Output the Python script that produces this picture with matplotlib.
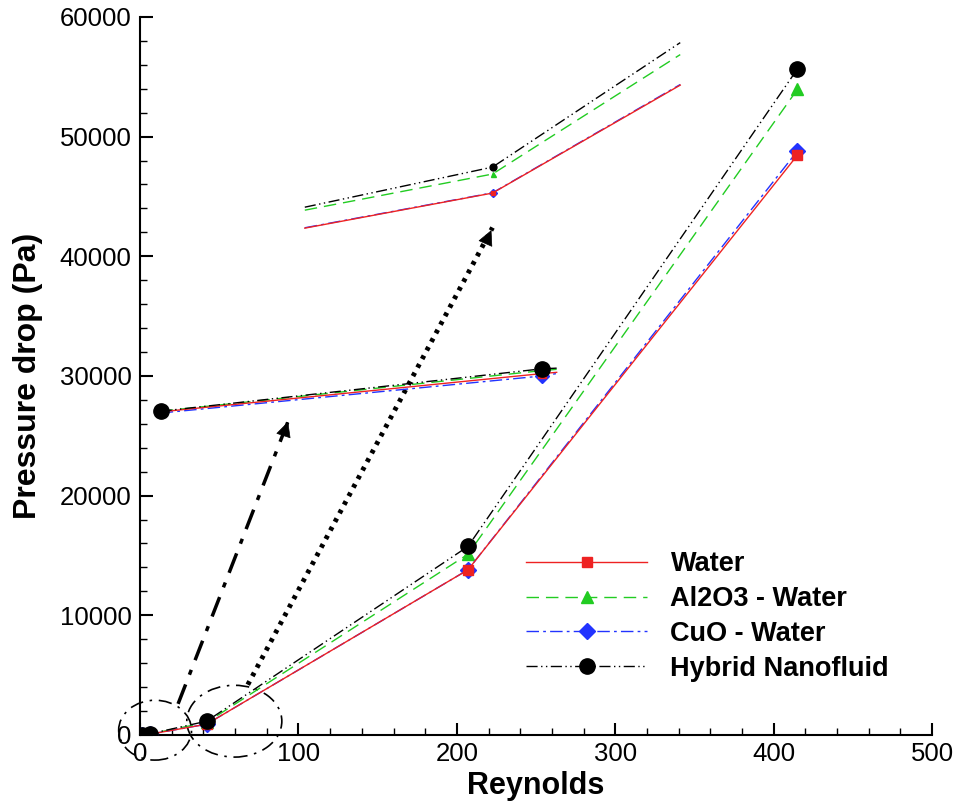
import matplotlib
matplotlib.use("Agg")
import matplotlib.pyplot as plt
from matplotlib.patches import Ellipse

plt.rcParams['font.family'] = ['Liberation Sans', 'DejaVu Sans']

# ---- main data ----
reynolds = [1.5, 6, 42, 207, 415]
water = [20, 60, 900, 13800, 48450]
al2o3 = [25, 80, 1050, 15100, 53950]
cuo = [20, 60, 900, 13800, 48800]
hybrid = [30, 90, 1150, 15750, 55650]

# ---- zoom view 1 (near origin) ----
z1_re = [13, 254, 263]
z1_water = [27000, 30200, 30300]
z1_al2o3 = [27050, 30450, 30550]
z1_cuo = [26900, 30000, 30200]
z1_hybrid = [27050, 30600, 30650]

# ---- zoom view 2 (second region) ----
z2_re = [104, 222.5, 341]
z2_water = [42350, 45280, 54300]
z2_al2o3 = [43850, 46870, 56850]
z2_cuo = [42380, 45300, 54350]
z2_hybrid = [44100, 47450, 57850]

# ---- annotation geometry ----
arrow1 = [(24, 2600), (94, 26400)]
arrow2 = [(68, 4200), (222.5, 42400)]
ellipse1 = dict(center=(9.5, 400), w=46, h=5000)
ellipse2 = dict(center=(59.5, 1150), w=60, h=6000)

fig = plt.figure(figsize=(9.56, 8.05), dpi=100)
ax = fig.add_axes([0.1465, 0.087, 0.8285, 0.892])

styles = {
    'Water': dict(color='#ee2222', ls='-', marker='s', ms=7),
    'Al2O3 - Water': dict(color='#22cc22', ls=(0, (9, 5)), marker='^', ms=8),
    'CuO - Water': dict(color='#2233ff', ls=(0, (9, 3, 2, 3)), marker='D', ms=8),
    'Hybrid Nanofluid': dict(color='black', ls=(0, (8, 2.5, 1, 2.5, 1, 2.5)), marker='o', ms=11),
}
main = {'Water': water, 'Al2O3 - Water': al2o3, 'CuO - Water': cuo, 'Hybrid Nanofluid': hybrid}
z1 = {'Water': z1_water, 'Al2O3 - Water': z1_al2o3, 'CuO - Water': z1_cuo, 'Hybrid Nanofluid': z1_hybrid}
z2 = {'Water': z2_water, 'Al2O3 - Water': z2_al2o3, 'CuO - Water': z2_cuo, 'Hybrid Nanofluid': z2_hybrid}

order = ['Al2O3 - Water', 'CuO - Water', 'Water', 'Hybrid Nanofluid']
handles = {}
for name in order:
    s = styles[name]
    h, = ax.plot(reynolds, main[name], color=s['color'], ls=s['ls'], lw=1.0,
                 marker=s['marker'], ms=s['ms'], label=name, zorder=3)
    handles[name] = h
    ax.plot(z1_re, z1[name], color=s['color'], ls=s['ls'], lw=1.0,
            marker=s['marker'], ms=s['ms'] * (0.85 if name != 'Hybrid Nanofluid' else 1.0),
            markevery=[0, 1] if name == 'Hybrid Nanofluid' else [1], zorder=3)
    ax.plot(z2_re, z2[name], color=s['color'], ls=s['ls'], lw=1.0,
            marker=s['marker'], ms=s['ms'] * 0.45, markevery=[1], zorder=3)

# arrows
ax.plot([arrow1[0][0], arrow1[1][0]], [arrow1[0][1], arrow1[1][1]], color='black',
        lw=2.5, ls=(0, (6, 3, 1.5, 3)), zorder=2)
ax.annotate('', xy=arrow1[1], xytext=(arrow1[1][0] - 3, arrow1[1][1] - 1200),
            arrowprops=dict(arrowstyle='-|>', color='black', lw=0.5, mutation_scale=25))
ax.plot([arrow2[0][0], arrow2[1][0]], [arrow2[0][1], arrow2[1][1]], color='black',
        lw=3.5, ls=(0, (0.8, 1.2)), zorder=2)
ax.annotate('', xy=arrow2[1], xytext=(arrow2[1][0] - 4, arrow2[1][1] - 1200),
            arrowprops=dict(arrowstyle='-|>', color='black', lw=0.5, mutation_scale=25))

for e in (ellipse1, ellipse2):
    ax.add_patch(Ellipse(e['center'], e['w'], e['h'], fill=False, ec='black', lw=1.2,
                         ls=(0, (8, 4, 1.5, 4)), clip_on=False, zorder=2))

ax.set_xlim(0, 500)
ax.set_ylim(0, 60000)
ax.set_xticks(range(0, 501, 100))
ax.set_xticks(range(0, 501, 20), minor=True)
ax.set_yticks(range(0, 60001, 10000))
ax.set_yticks(range(0, 60001, 2000), minor=True)
ax.tick_params(which='major', direction='in', length=9, width=1.5, labelsize=18.5, pad=6)
ax.tick_params(which='major', axis='x', pad=5)
ax.tick_params(which='minor', direction='in', length=5, width=1)
for sp in ('top', 'right'):
    ax.spines[sp].set_visible(False)
for sp in ('left', 'bottom'):
    ax.spines[sp].set_linewidth(1.5)

ax.set_xlabel('Reynolds', fontsize=22, fontweight='bold', labelpad=4)
ax.set_ylabel('Pressure drop (Pa)', fontsize=23, fontweight='bold', labelpad=12)

leg_order = ['Water', 'Al2O3 - Water', 'CuO - Water', 'Hybrid Nanofluid']
leg = ax.legend([handles[n] for n in leg_order], leg_order, loc='upper left',
                bbox_to_anchor=(0.456, 0.29), frameon=False, handlelength=4.5,
                handletextpad=0.85, labelspacing=0.33,
                prop=dict(weight='bold', size=19.5))

fig.savefig('out.png', dpi=100)
